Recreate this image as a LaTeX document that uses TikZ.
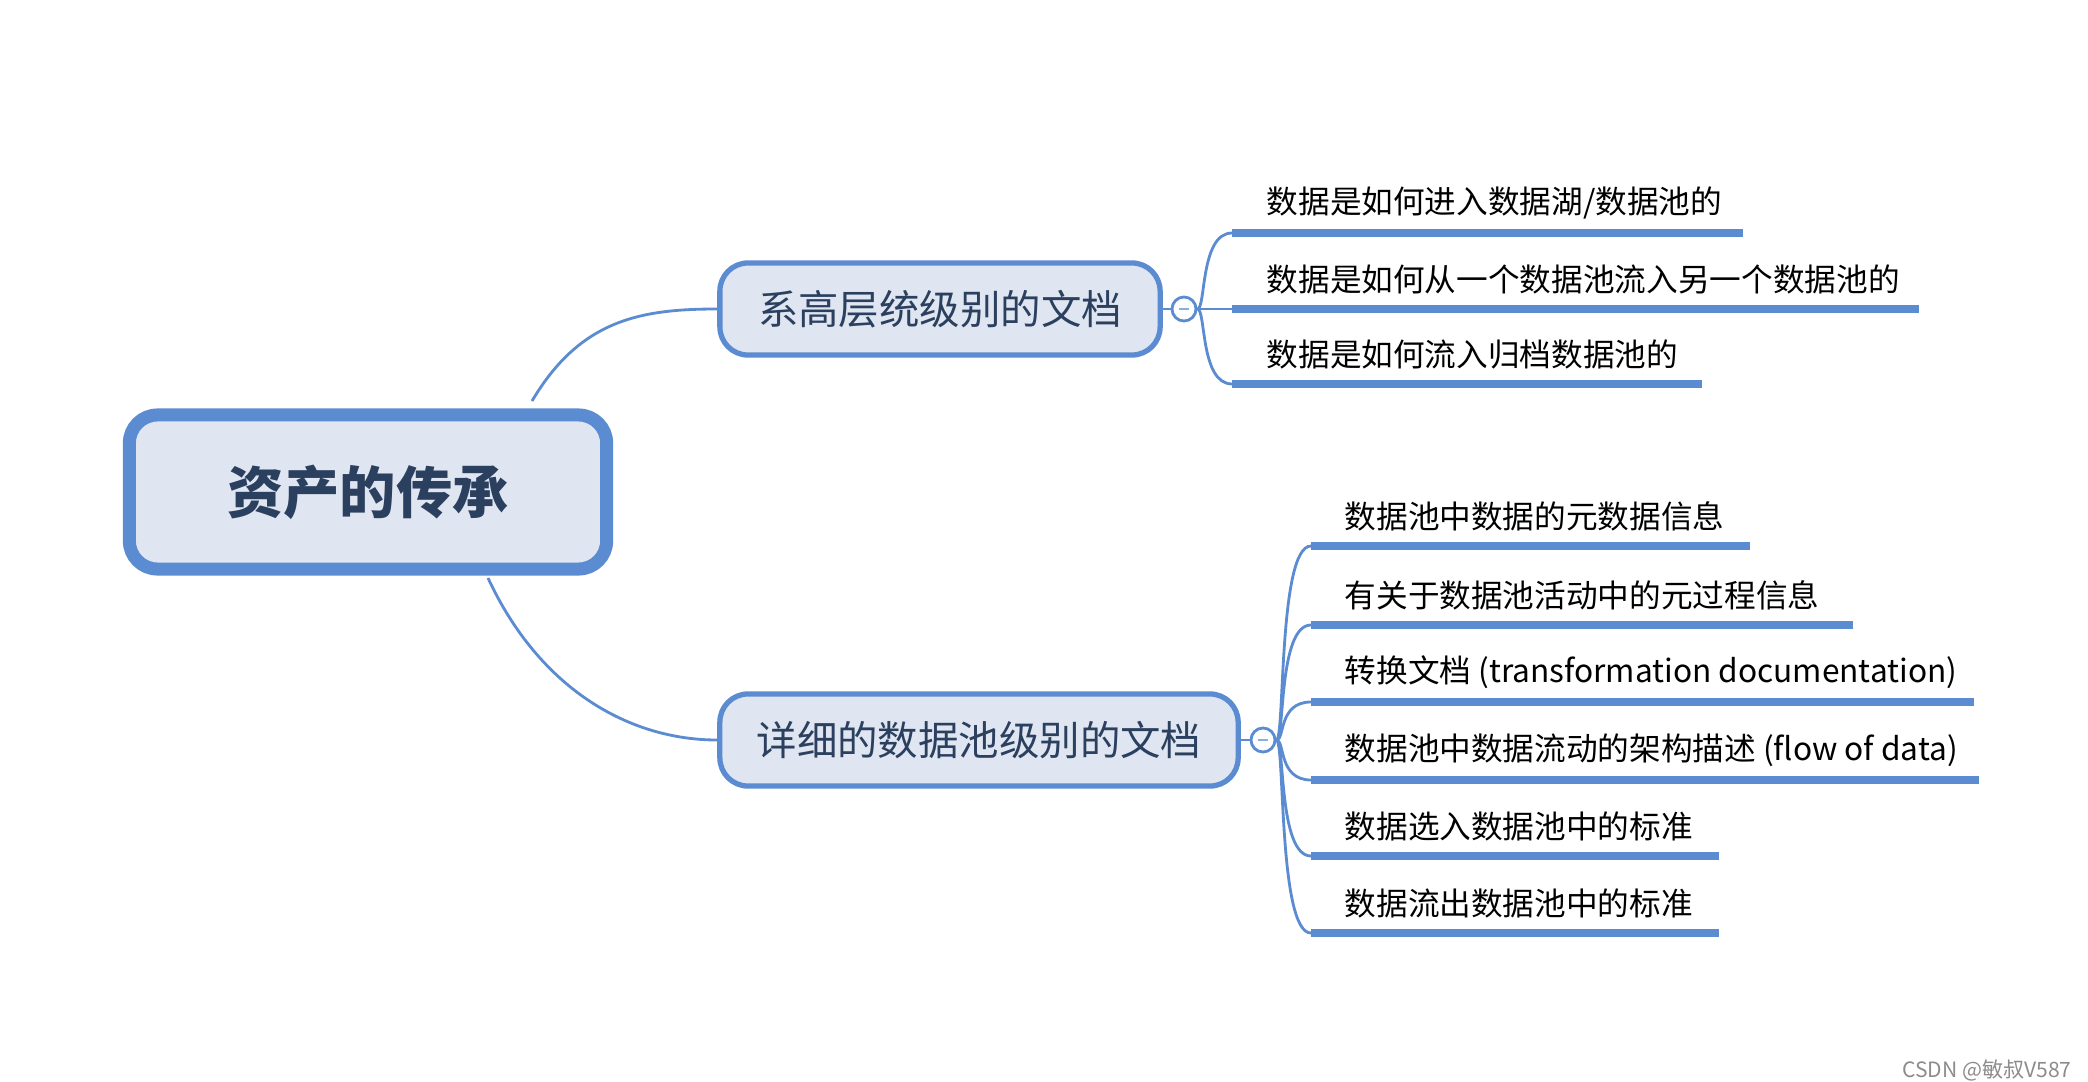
\documentclass[tikz,border=0pt]{standalone}
\usepackage{fontspec}
\setmainfont{Noto Sans CJK SC}
\usetikzlibrary{positioning}
\definecolor{MAP_BLUE}{HTML}{5B8BD0}
\definecolor{MAP_FILL}{HTML}{DFE6F1}
\definecolor{MAP_TEXT}{HTML}{2B3F5E}
\tikzset{
  topic/.style={rectangle, rounded corners=8pt, draw=MAP_BLUE, fill=MAP_FILL, text=MAP_TEXT},
  root_topic/.style={topic, line width=3.7pt, minimum width=4.77cm, minimum height=1.54cm, font=\fontsize{16}{18}\selectfont\bfseries},
  sub_topic/.style={topic, line width=1.5pt, minimum height=0.92cm, font=\fontsize{11.5}{13}\selectfont},
  leaf/.style={anchor=west, font=\fontsize{9}{11}\selectfont, text=black, inner sep=0pt},
  branch/.style={draw=MAP_BLUE, line width=0.8pt},
  underline/.style={draw=MAP_BLUE, line width=2pt},
  fold/.style={circle, draw=MAP_BLUE, fill=white, line width=0.8pt, minimum size=0.24cm, inner sep=0pt}
}
\begin{document}
\begin{tikzpicture}[x=0.01cm, y=-0.01cm]
  \useasboundingbox (0,0) rectangle (2088,1082);

  % ROOT
  \node[root_topic] (ROOT) at (368,492) {资产的传承};

  % TOPICS
  \node[sub_topic, minimum width=4.4cm] (HL) at (940,309) {系高层统级别的文档};
  \node[sub_topic, minimum width=5.18cm] (DP) at (979,740) {详细的数据池级别的文档};

  \draw[branch] (532,401) .. controls (580,320) and (640,309) .. (HL.west);
  \draw[branch] (488,578) .. controls (540,690) and (630,740) .. (DP.west);

  \node[fold] (HLF) at (1184,309) {};
  \node[fold] (DPF) at (1263,740) {};
  \draw[branch] (HL.east) -- (HLF);
  \draw[branch] (DP.east) -- (DPF);
  \draw[MAP_BLUE!70, line width=0.8pt] (HLF.center) ++(-5,0) -- ++(10,0);
  \draw[MAP_BLUE!70, line width=0.8pt] (DPF.center) ++(-5,0) -- ++(10,0);

  % HIGH LEVEL LEAVES
  \foreach \i/\y/\xe/\txt in {1/233/1743/{数据是如何进入数据湖/数据池的},
                             2/309/1919/{数据是如何从一个数据池流入另一个数据池的},
                             3/384/1702/{数据是如何流入归档数据池的}}{
    \coordinate (HLs\i) at (1232,\y);
    \coordinate (HLe\i) at (\xe,\y);
    \node[leaf] (HLt\i) at (1266,\y-30) {\txt};
    \draw[underline] (HLs\i) -- (HLe\i);
    \draw[branch] (HLF.east) .. controls (1206,309) and (1200,\y) .. (HLs\i);
  }

  % DATA POOL LEAVES
  \foreach \i/\y/\xe/\txt in {1/546/1750/{数据池中数据的元数据信息},
                             2/625/1853/{有关于数据池活动中的元过程信息},
                             3/702/1974/{转换文档 (transformation documentation)},
                             4/780/1979/{数据池中数据流动的架构描述 (flow of data)},
                             5/856/1719/{数据选入数据池中的标准},
                             6/933/1719/{数据流出数据池中的标准}}{
    \coordinate (DPs\i) at (1311,\y);
    \coordinate (DPe\i) at (\xe,\y);
    \node[leaf] (DPt\i) at (1344,\y-30) {\txt};
    \draw[underline] (DPs\i) -- (DPe\i);
    \draw[branch] (DPF.east) .. controls (1285,740) and (1278,\y) .. (DPs\i);
  }

  \node[anchor=east, font=\fontsize{6}{7}\selectfont, text=black!45] (WM) at (2084,1070) {CSDN @敏叔V587};
\end{tikzpicture}
\end{document}
